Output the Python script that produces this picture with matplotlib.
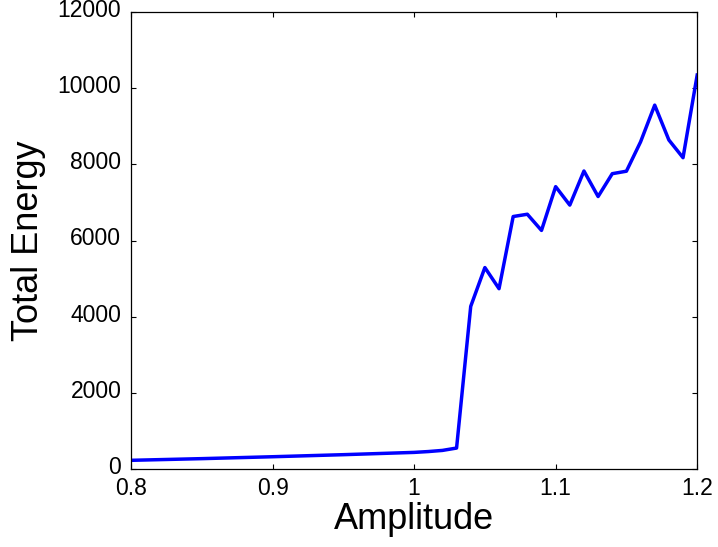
import matplotlib
matplotlib.use("Agg")
import matplotlib.pyplot as plt
import matplotlib.transforms as mtransforms

# amplitude vs total energy
amplitude = [0.80, 0.85, 0.90, 0.95, 1.00, 1.01, 1.02, 1.03, 1.04, 1.05,
             1.06, 1.07, 1.08, 1.09, 1.10, 1.11, 1.12, 1.13, 1.14, 1.15,
             1.16, 1.17, 1.18, 1.19, 1.20]
energy = [228, 272, 322, 376, 436, 458, 488, 550, 4270, 5290,
          4735, 6630, 6690, 6265, 7415, 6930, 7825, 7155, 7755, 7820,
          8590, 9555, 8640, 8175, 10345]

xticks = [0.8, 0.9, 1.0, 1.1, 1.2]
xticklabels = ["0.8", "0.9", "1", "1.1", "1.2"]
yticks = [0, 2000, 4000, 6000, 8000, 10000, 12000]

plt.rcParams["font.family"] = ["Liberation Sans", "DejaVu Sans"]

fig = plt.figure(figsize=(7.18, 5.47), dpi=100)
ax = fig.add_axes([0.1825, 0.1426, 0.7885, 0.8354])

ax.plot(amplitude, energy, color=(0, 0, 1), linewidth=2.5)

ax.set_xlim(0.8, 1.2)
ax.set_ylim(0, 12000)
ax.set_xticks(xticks)
ax.set_xticklabels(xticklabels)
ax.set_yticks(yticks)
ax.tick_params(direction="in", length=3.6, width=0.8, top=True, right=True,
               labelsize=16.5)
ax.tick_params(axis="x", pad=6)
ax.tick_params(axis="y", pad=7)
for s in ax.spines.values():
    s.set_linewidth(0.9)

# y tick labels sit a little above their ticks, as in the matlab figure
shift = mtransforms.ScaledTranslation(0, 3 / 72, fig.dpi_scale_trans)
for lab in ax.get_yticklabels():
    lab.set_transform(lab.get_transform() + shift)

ax.set_xlabel("Amplitude", fontsize=26, labelpad=1)
ax.set_ylabel("Total Energy", fontsize=26, labelpad=8)

fig.savefig("out.png", dpi=100)
